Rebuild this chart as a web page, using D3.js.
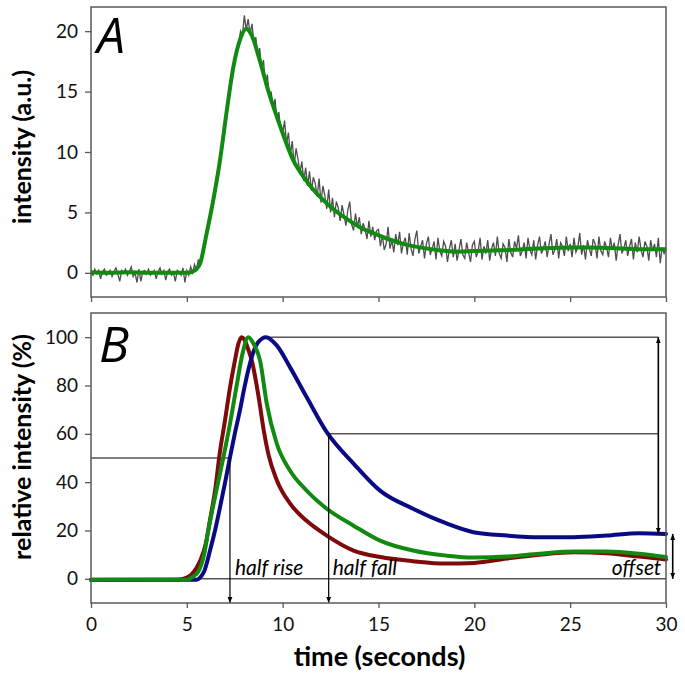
<!DOCTYPE html>
<html>
<head>
<meta charset="utf-8">
<script src="https://cdn.jsdelivr.net/npm/d3@7"></script>
<style>
  html, body { margin: 0; padding: 0; background: #fff; }
  svg { display: block; font-family: Lato, "Open Sans", sans-serif; }
</style>
</head>
<body>
<svg id="chart" width="685" height="680"></svg>
<script>
// ---------------- DATA ----------------
// Panel A: raw noisy trace, sampled every rawStep seconds from t = 0
const rawStep = 0.1;
const rawIntensity = [
  0.1,-0.2,0.3,-0.1,0.2,-0.5,0.1,0.3,-0.2,0.0,
  0.2,-0.3,0.1,0.4,-0.1,-0.7,0.2,0.0,0.3,-0.2,
  0.1,0.5,-0.3,0.0,-0.8,0.3,-0.7,0.1,0.2,-0.1,
  0.3,-0.2,0.0,0.2,-0.5,0.1,0.4,-0.1,0.2,-0.6,
  0.1,0.3,-0.2,0.0,-0.7,0.2,0.1,-0.2,0.4,-0.8,
  0.2,-0.2,0.5,0.0,0.7,0.2,1.1,0.6,1.6,2.0,
  3.2,3.6,4.8,5.2,6.5,7.0,8.4,8.8,10.5,11.2,
  12.8,13.4,15.0,15.6,17.2,17.4,18.6,18.9,20.0,19.6,
  21.3,20.1,21.0,19.8,20.6,19.0,19.5,17.9,18.6,16.9,
  17.6,15.6,16.4,14.6,15.0,13.6,14.4,12.6,13.3,11.8,
  11.5,12.6,10.7,11.6,9.8,10.9,8.9,10.3,9.4,8.3,
  9.2,7.6,8.7,7.2,8.4,6.8,7.9,7.4,6.3,7.8,
  5.8,7.2,6.4,5.3,6.9,5.0,6.2,4.6,5.9,5.4,
  4.3,5.6,4.8,3.9,5.2,5.9,4.0,3.5,4.9,3.8,
  4.6,3.2,4.1,3.6,2.8,4.3,3.0,3.8,2.7,3.5,
  3.6,2.2,3.1,1.9,2.4,3.8,2.0,2.7,1.7,3.2,
  2.3,3.4,1.6,2.5,2.9,1.5,3.3,2.0,1.4,2.8,
  3.5,1.6,2.2,2.7,1.2,2.4,3.0,1.5,2.0,2.6,
  1.1,2.9,1.8,1.4,2.6,2.2,0.9,2.0,2.7,1.3,
  2.4,1.0,1.9,2.8,1.5,1.2,2.5,1.7,0.9,2.3,
  2.6,1.3,1.8,2.9,1.1,2.2,1.6,2.7,1.0,2.0,
  2.5,1.4,3.0,1.6,1.2,2.4,2.1,0.9,2.8,1.7,
  1.3,2.6,2.0,3.1,1.4,1.8,2.5,1.2,2.9,1.9,
  1.5,2.7,1.1,2.3,3.0,1.6,2.0,2.6,1.3,2.4,
  3.2,1.5,1.9,2.8,1.2,2.5,2.2,1.4,3.0,1.8,
  2.4,1.3,2.9,1.7,2.1,3.3,1.5,2.3,1.1,2.7,
  2.0,1.4,2.8,2.4,1.2,3.0,1.8,1.5,2.6,2.1,
  1.3,2.9,1.9,2.5,1.0,2.3,3.2,1.6,2.0,2.7,
  1.4,2.2,2.8,1.1,2.5,1.7,3.0,1.9,1.3,2.6,
  2.2,1.0,2.7,1.8,2.4,1.3,2.9,0.8,2.1,1.6,
  2.0
];

// Panel A: smoothed fit
const fitTime = [0,1,2,3,4,4.5,5,5.3,5.5,5.7,6.0,6.4,6.7,7.1,7.4,7.8,8.1,8.4,8.8,9.3,9.9,10.5,11.2,12.0,12.7,13.4,14.0,14.7,15.5,16.3,17.0,18.0,19.0,20.0,21,22,23,24,25,26,27,28,29,30];
const fitIntensity = [0.05,0.0,0.05,0.0,0.0,0.0,0.0,0.1,0.3,0.8,3.0,6.2,9.0,13.6,16.8,19.4,20.2,19.6,17.6,14.8,12.0,9.5,7.7,6.2,5.2,4.4,3.8,3.3,2.8,2.4,2.15,1.9,1.75,1.8,1.85,1.9,2.0,2.05,2.1,2.1,2.05,2.0,1.95,1.95];

// Panel B: relative intensity (%)
const redTime = [0,4.5,5.0,5.2,5.5,5.7,6.0,6.2,6.5,6.7,7.0,7.25,7.5,7.7,7.85,8.0,8.2,8.4,8.6,8.8,9.0,9.25,9.7,10.4,11.25,12.3,13.7,15.1,16.8,18.5,20,21.7,23.4,25.2,26.9,28.6,30];
const redValue = [-0.4,-0.4,0.5,1.5,4.5,7.6,15,24,38,51,66,79,90,97.5,100,99,95,90,82,72.5,62,51.7,40.7,31,24,17.9,11.7,9,7.3,6.3,6.6,8.4,10,11,10.6,9.2,8];

const greenTime = [0,5.0,5.3,5.6,5.9,6.12,6.5,6.9,7.2,7.6,7.9,8.2,8.5,8.82,9.17,9.69,10.38,11.25,12.3,13.7,15.08,16.8,18.55,19.95,21.7,23.4,25.2,26.9,28.6,30];
const greenValue = [-0.4,-0.4,0.8,3,10,20,35,50,62,80,93,100,97,90.3,72.5,56,44.8,36.5,29,22,15.8,11.7,9.6,8.8,9.2,10.4,11.3,11.3,10.4,9];

const blueTime = [0,5.5,5.69,5.9,6.21,6.47,6.73,7.0,7.25,7.5,7.77,8.0,8.29,8.5,8.73,9.13,9.69,10.38,11.25,12.3,13.7,15.08,16.8,18.55,19.95,21.7,23.4,25.2,26.9,28.6,30];
const blueValue = [-0.5,-0.4,0.5,3,11.7,20,29.6,40,50.3,60,69.7,79,89,94.5,98,100,96.6,87.6,75.2,60.7,47.7,36.5,29,22.9,19.3,17.9,17.2,17.2,17.9,18.9,18.6];

// Axis ticks
const xTicks = [0,5,10,15,20,25,30];
const yTicksA = [0,5,10,15,20];
const yTicksB = [0,20,40,60,80,100];

// Annotation values (data units)
const halfRiseTime = 7.25, halfRiseLevel = 50;
const halfFallTime = 12.4, halfFallLevel = 60;
const peakTime = 9.13, peakLevel = 100;
const rangeArrowTime = 29.6, endLevel = 18.6;
const offsetArrowTime = 30.35;

// ---------------- DRAWING ----------------
const svg = d3.select("#chart");
const left = 91, right = 666;
const x = d3.scaleLinear().domain([0, 30]).range([left, right]);
const yA = d3.scaleLinear().domain([-2, 22]).range([297, 7]);
const yB = d3.scaleLinear().domain([-10, 110]).range([603, 313]);

const frameColor = "#5a5a5a";
const tickFont = 19;

const defs = svg.append("defs");
function marker(id, orient) {
  defs.append("marker")
    .attr("id", id)
    .attr("viewBox", "0 0 10 10")
    .attr("refX", 10).attr("refY", 5)
    .attr("markerWidth", 6).attr("markerHeight", 6)
    .attr("markerUnits", "userSpaceOnUse")
    .attr("orient", orient)
    .append("path").attr("d", "M0,1 L10,5 L0,9 Z").attr("fill", "#000");
}
marker("arrowEnd", "auto");
marker("arrowStart", "auto-start-reverse");

function styleAxis(g) {
  g.select(".domain").remove();
  g.selectAll(".tick line").attr("stroke", frameColor).attr("stroke-width", 1.3);
  g.selectAll(".tick text").attr("fill", "#111").style("font-size", tickFont + "px")
    .style("font-family", "Lato, 'Open Sans', sans-serif");
}

// ---- Panel A ----
const gA = svg.append("g");
gA.append("g").attr("transform", `translate(${left},0)`)
  .call(d3.axisLeft(yA).tickValues(yTicksA).tickSize(6).tickPadding(7))
  .call(styleAxis);
gA.append("g").attr("transform", `translate(0,${yA.range()[0]})`)
  .call(d3.axisBottom(x).tickValues(xTicks).tickSize(5).tickFormat(""))
  .call(styleAxis);

const rawData = rawIntensity.map((v, i) => [i * rawStep, v]);
gA.append("path")
  .datum(rawData)
  .attr("fill", "none").attr("stroke", "#4d4d4d").attr("stroke-width", 1.3)
  .attr("d", d3.line().x(d => x(d[0])).y(d => yA(d[1])));

gA.append("path")
  .datum(fitTime.map((t, i) => [t, fitIntensity[i]]))
  .attr("fill", "none").attr("stroke", "#108a10").attr("stroke-width", 4)
  .attr("stroke-linejoin", "round")
  .attr("d", d3.line().x(d => x(d[0])).y(d => yA(d[1])).curve(d3.curveMonotoneX));

gA.append("rect")
  .attr("x", left).attr("y", yA.range()[1])
  .attr("width", right - left).attr("height", yA.range()[0] - yA.range()[1])
  .attr("fill", "none").attr("stroke", frameColor).attr("stroke-width", 1.5);

gA.append("text").text("A")
  .attr("x", 97).attr("y", 53)
  .style("font-size", "50px").style("font-style", "italic")
  .style("font-family", "'Open Sans', Lato, sans-serif")
  .attr("fill", "#000");

svg.append("text").text("intensity (a.u.)")
  .attr("transform", `translate(31,${(yA(22) + yA(-2)) / 2 - 5}) rotate(-90)`)
  .attr("text-anchor", "middle")
  .style("font-size", "25px").style("font-weight", "bold").attr("fill", "#000");

// ---- Panel B ----
const gB = svg.append("g");
gB.append("g").attr("transform", `translate(${left},0)`)
  .call(d3.axisLeft(yB).tickValues(yTicksB).tickSize(6).tickPadding(7))
  .call(styleAxis);
gB.append("g").attr("transform", `translate(0,${yB.range()[0]})`)
  .call(d3.axisBottom(x).tickValues(xTicks).tickSize(5).tickPadding(10))
  .call(styleAxis);

const ann = gB.append("g").attr("stroke", "#000").attr("stroke-width", 1).attr("fill", "none");
ann.append("line").attr("x1", x(0)).attr("x2", x(30)).attr("y1", yB(0)).attr("y2", yB(0));
ann.append("line").attr("x1", x(0)).attr("x2", x(halfRiseTime)).attr("y1", yB(halfRiseLevel)).attr("y2", yB(halfRiseLevel));
ann.append("line").attr("x1", x(halfFallTime)).attr("x2", x(rangeArrowTime)).attr("y1", yB(halfFallLevel)).attr("y2", yB(halfFallLevel));
ann.append("line").attr("x1", x(peakTime)).attr("x2", x(rangeArrowTime)).attr("y1", yB(peakLevel)).attr("y2", yB(peakLevel));

const curveLine = d3.line().x(d => x(d[0])).y(d => yB(d[1])).curve(d3.curveMonotoneX);
const series = [
  { t: redTime, v: redValue, color: "#7f0a0a" },
  { t: blueTime, v: blueValue, color: "#0a0a85" },
  { t: greenTime, v: greenValue, color: "#128a12" }
];
series.forEach(s => {
  gB.append("path")
    .datum(s.t.map((t, i) => [t, s.v[i]]))
    .attr("fill", "none").attr("stroke", s.color).attr("stroke-width", 4)
    .attr("stroke-linejoin", "round").attr("stroke-linecap", "round")
    .attr("d", curveLine);
});

const arr = gB.append("g").attr("stroke", "#000").attr("stroke-width", 1.2).attr("fill", "none");
arr.append("line").attr("x1", x(halfRiseTime)).attr("x2", x(halfRiseTime))
  .attr("y1", yB(halfRiseLevel)).attr("y2", yB(-10)).attr("marker-end", "url(#arrowEnd)");
arr.append("line").attr("x1", x(halfFallTime)).attr("x2", x(halfFallTime))
  .attr("y1", yB(halfFallLevel)).attr("y2", yB(-10)).attr("marker-end", "url(#arrowEnd)");
arr.append("line").attr("x1", x(rangeArrowTime)).attr("x2", x(rangeArrowTime))
  .attr("y1", yB(peakLevel)).attr("y2", yB(endLevel))
  .attr("stroke-width", 1.6)
  .attr("marker-start", "url(#arrowStart)").attr("marker-end", "url(#arrowEnd)");
arr.append("line").attr("x1", x(offsetArrowTime)).attr("x2", x(offsetArrowTime))
  .attr("y1", yB(endLevel)).attr("y2", yB(0))
  .attr("stroke-width", 1.6)
  .attr("marker-start", "url(#arrowStart)").attr("marker-end", "url(#arrowEnd)");

gB.append("rect")
  .attr("x", left).attr("y", yB.range()[1])
  .attr("width", right - left).attr("height", yB.range()[0] - yB.range()[1])
  .attr("fill", "none").attr("stroke", frameColor).attr("stroke-width", 1.5);

const labelStyle = sel => sel.style("font-size", "21px").style("font-style", "italic").attr("fill", "#000");
gB.append("text").text("half rise").attr("x", x(halfRiseTime) + 5).attr("y", yB(0) - 4).call(labelStyle);
gB.append("text").text("half fall").attr("x", x(halfFallTime) + 4).attr("y", yB(0) - 4).call(labelStyle);
gB.append("text").text("offset").attr("x", x(rangeArrowTime) + 3).attr("y", yB(0) - 4)
  .attr("text-anchor", "end").call(labelStyle);

gB.append("text").text("B")
  .attr("x", 99).attr("y", 362)
  .style("font-size", "50px").style("font-style", "italic")
  .style("font-family", "'Open Sans', Lato, sans-serif")
  .attr("fill", "#000");

svg.append("text").text("relative intensity (%)")
  .attr("transform", `translate(31,${(yB(110) + yB(-10)) / 2 - 11}) rotate(-90)`)
  .attr("text-anchor", "middle")
  .style("font-size", "25px").style("font-weight", "bold").attr("fill", "#000");

svg.append("text").text("time (seconds)")
  .attr("x", (left + right) / 2 + 1).attr("y", 666)
  .attr("text-anchor", "middle")
  .style("font-size", "27px").style("font-weight", "bold").attr("fill", "#000");
</script>
</body>
</html>
